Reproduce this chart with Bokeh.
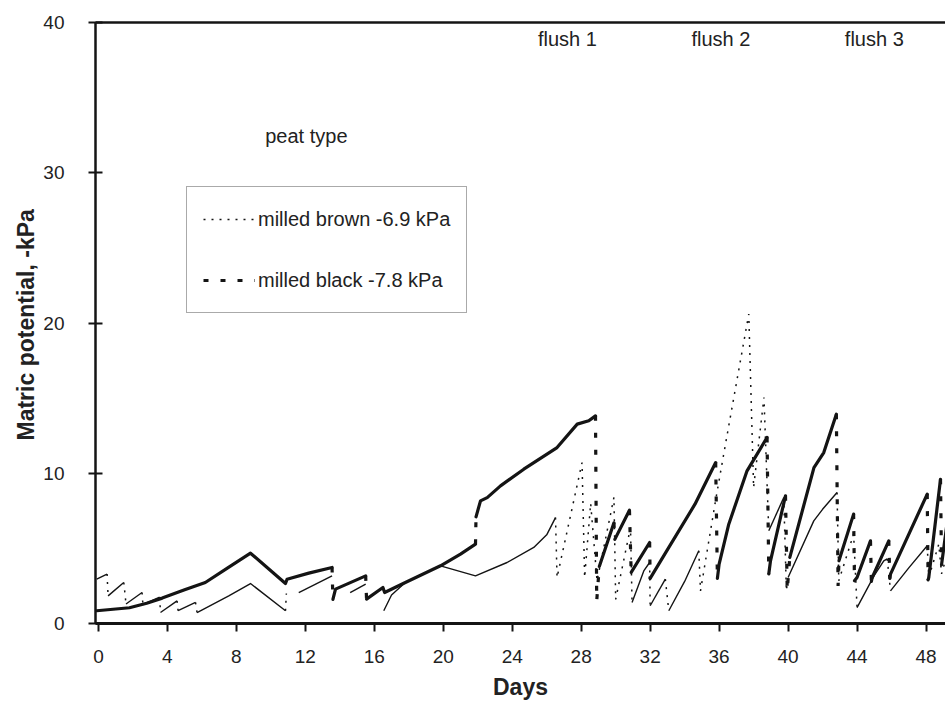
import math
from bokeh.plotting import figure
from bokeh.models import (LinearAxis, FixedTicker, Label, Legend, LegendItem, Range1d, Title)
from bokeh.embed import file_html
from bokeh.resources import INLINE

NaN = float("nan")

# ---- data (days, matric potential -kPa) ----
brown_days = [-0.1, 0.5, 0.56, 1.47, 1.6, 2.53, 2.58, 3.55, 3.6, 4.56,
              4.62, 5.63, 5.72, 7.56, 8.82, 10.85, 10.9, NaN, 11.62, 13.55,
              NaN, 14.6, 15.5, NaN, 16.55, 17.0, 17.8, 19.84, 21.87, 23.7,
              25.25, 26.0, 26.51, 26.6, 28.05, 28.2, 28.55, 28.92, 29.9, 30.0,
              30.86, 30.95, 31.63, 31.97, 32.0, 32.88, 33.08, 34.0, 34.82, 34.92,
              35.79, 36.37, 37.72, 38.0, 38.6, 38.88, 39.75, 39.9, 40.0, 41.49,
              42.0, 42.84, 42.94, 43.8, 44.0, 45.0, 45.55, 45.75, 45.94, 47.0,
              48.07, 48.16, 48.74, 48.9, 49.2]
brown_kpa = [2.95, 3.29, 1.84, 2.73, 1.3, 2.06, 1.25, 1.75, 0.73, 1.51,
             0.85, 1.40, 0.73, 1.84, 2.66, 0.85, 2.0, NaN, 2.06, 3.17,
             NaN, 2.06, 2.62, NaN, 0.85, 1.9, 2.73, 3.84, 3.17, 4.06,
             5.06, 5.9, 7.05, 3.06, 10.71, 3.06, 8.0, 2.84, 8.4, 1.6,
             6.4, 1.4, 3.5, 4.06, 1.18, 2.95, 0.85, 2.8, 4.84, 2.17,
             8.16, 11.94, 20.59, 9.05, 15.04, 6.17, 8.38, 2.17, 3.06, 6.83,
             7.6, 8.72, 2.84, 5.95, 1.06, 3.2, 4.17, 4.3, 2.17, 3.7,
             5.17, 3.06, 5.28, 3.3, 4.5]

black_days = [-0.1, 1.8, 2.8, 3.7, 5.0, 6.2, 7.5, 8.82, 10.85, 10.94,
              12.2, 13.55, 13.6, 13.75, 15.5, 15.55, 16.5, 16.6, 17.8, 19.84,
              21.0, 21.87, 21.9, 22.16, 22.55, 23.32, 24.67, 26.6, 27.77, 28.44,
              28.83, 28.9, 29.05, 29.9, 29.95, 30.8, 30.9, 31.97, 32.0, 32.9,
              34.6, 35.8, 35.9, 36.0, 36.56, 37.62, 38.78, 38.88, 38.98, 39.85,
              39.95, 40.1, 41.5, 42.07, 42.8, 42.9, 42.95, 43.8, 43.85, 44.0,
              44.78, 44.83, 44.88, 45.84, 45.9, 45.94, 48.07, 48.12, 48.16, 48.84,
              48.9, 49.2]
black_kpa = [0.85, 1.05, 1.35, 1.69, 2.24, 2.73, 3.7, 4.68, 2.66, 2.95,
             3.35, 3.73, 1.6, 2.29, 3.17, 1.62, 2.4, 2.06, 2.73, 3.84,
             4.62, 5.28, 7.1, 8.16, 8.38, 9.16, 10.27, 11.71, 13.27, 13.49,
             13.82, 1.5, 3.8, 6.7, 5.6, 7.54, 3.4, 5.39, 3.0, 4.72,
             7.94, 10.71, 3.0, 3.95, 6.61, 10.16, 12.38, 3.3, 4.17, 8.5,
             2.2, 4.4, 10.38, 11.38, 13.93, 2.5, 4.17, 7.28, 2.84, 3.06,
             5.5, 2.8, 3.06, 5.5, 3.0, 3.29, 8.61, 2.9, 3.06, 9.6,
             3.9, 6.5]

series_labels = ["milled brown -6.9 kPa", "milled black -7.8 kPa"]
x_ticks = [0, 4, 8, 12, 16, 20, 24, 28, 32, 36, 40, 44, 48]
y_ticks = [0, 10, 20, 30, 40]
flush_names = ["flush 1", "flush 2", "flush 3"]

FONT = "Liberation Sans"
INK = "#141414"
TXT = "#222222"


def split_runs(days, vals, max_rate):
    """Split a trace into slowly changing runs and fast (re-wetting) runs."""
    slow, fast = [], []
    cur, cur_kind = None, None
    for i in range(len(days) - 1):
        x0, y0, x1, y1 = days[i], vals[i], days[i + 1], vals[i + 1]
        if any(math.isnan(v) for v in (x0, y0, x1, y1)):
            cur = None
            continue
        kind = "fast" if abs(y1 - y0) > max_rate * (x1 - x0) else "slow"
        if cur is not None and kind == cur_kind:
            cur[0].append(x1)
            cur[1].append(y1)
        else:
            cur = ([x0, x1], [y0, y1])
            cur_kind = kind
            (fast if kind == "fast" else slow).append(cur)
    return slow, fast


p = figure(width=945, height=702, output_backend="svg", toolbar_location=None,
           x_range=Range1d(-0.17, 49.13), y_range=Range1d(0, 40),
           min_border_left=95, min_border_right=0, min_border_top=22,
           min_border_bottom=79)
p.background_fill_color = "white"
p.border_fill_color = "white"
p.outline_line_color = None
p.grid.visible = False

# x axis
xa = p.xaxis[0]
xa.ticker = FixedTicker(ticks=x_ticks)
xa.axis_line_width = 3
xa.axis_line_color = INK
xa.major_tick_in = 0
xa.major_tick_out = 8
xa.major_tick_line_width = 2
xa.major_tick_line_color = INK
xa.minor_tick_line_color = None
xa.major_label_standoff = 18
xa.major_label_text_font = FONT
xa.major_label_text_font_size = "19px"
xa.major_label_text_color = TXT
xa.axis_label = "Days"
xa.axis_label_text_font = FONT
xa.axis_label_text_font_size = "23px"
xa.axis_label_text_font_style = "bold"
xa.axis_label_text_color = TXT
xa.axis_label_standoff = 8

# y axis
ya = p.yaxis[0]
ya.ticker = FixedTicker(ticks=y_ticks)
ya.axis_line_width = 2.5
ya.axis_line_color = INK
ya.major_tick_in = 7
ya.major_tick_out = 7
ya.major_tick_line_width = 2
ya.major_tick_line_color = INK
ya.minor_tick_line_color = None
ya.major_label_standoff = 24
ya.major_label_text_font = FONT
ya.major_label_text_font_size = "19px"
ya.major_label_text_color = TXT

# y axis title (placed off-centre, as in the reference)
p.add_layout(Title(text="Matric potential, -kPa", align="left", offset=183,
                   text_font=FONT, text_font_size="23px", text_font_style="bold",
                   text_color=TXT, standoff=4), "left")

# top frame line
top = LinearAxis(ticker=FixedTicker(ticks=[]), axis_line_width=2.5, axis_line_color=INK,
                 major_tick_in=0, major_tick_out=0, minor_tick_in=0, minor_tick_out=0,
                 major_label_text_font_size="0px", major_label_standoff=0)
p.add_layout(top, "above")

# series
b_slow, b_fast = split_runs(brown_days, brown_kpa, 3.3)
k_slow, k_fast = split_runs(black_days, black_kpa, 10.0)

r_b_slow = p.multi_line(xs=[r[0] for r in b_slow], ys=[r[1] for r in b_slow],
                        line_color=INK, line_width=1.4, line_join="round")
r_b_fast = p.multi_line(xs=[r[0] for r in b_fast], ys=[r[1] for r in b_fast],
                        line_color=INK, line_width=1.5, line_dash="2 6")
r_k_slow = p.multi_line(xs=[r[0] for r in k_slow], ys=[r[1] for r in k_slow],
                        line_color=INK, line_width=3.2, line_join="round", line_cap="round")
r_k_fast = p.multi_line(xs=[r[0] for r in k_fast], ys=[r[1] for r in k_fast],
                        line_color=INK, line_width=3.2, line_dash="5 12")

legend = Legend(items=[LegendItem(label=series_labels[0], renderers=[r_b_fast]),
                       LegendItem(label=series_labels[1], renderers=[r_k_fast])],
                location=(91, 310), orientation="vertical",
                label_text_font=FONT, label_text_font_size="20px",
                label_text_color=TXT,
                glyph_width=52, glyph_height=32, label_height=32, label_standoff=3,
                spacing=29, padding=16, margin=0,
                border_line_color="#555555", border_line_width=1,
                background_fill_color="white", background_fill_alpha=1.0)
p.add_layout(legend, "center")

# annotations
p.add_layout(Label(x=12.06, y=32.45, text="peat type", text_align="center",
                   text_baseline="middle", text_font=FONT, text_font_size="20px",
                   text_color=TXT))
for name, d in zip(flush_names, [27.2, 36.1, 45.0]):
    p.add_layout(Label(x=d, y=38.9, text=name, text_align="center",
                       text_baseline="middle", text_font=FONT, text_font_size="20px",
                       text_color=TXT))

open("out.html", "w").write(file_html(p, INLINE))
